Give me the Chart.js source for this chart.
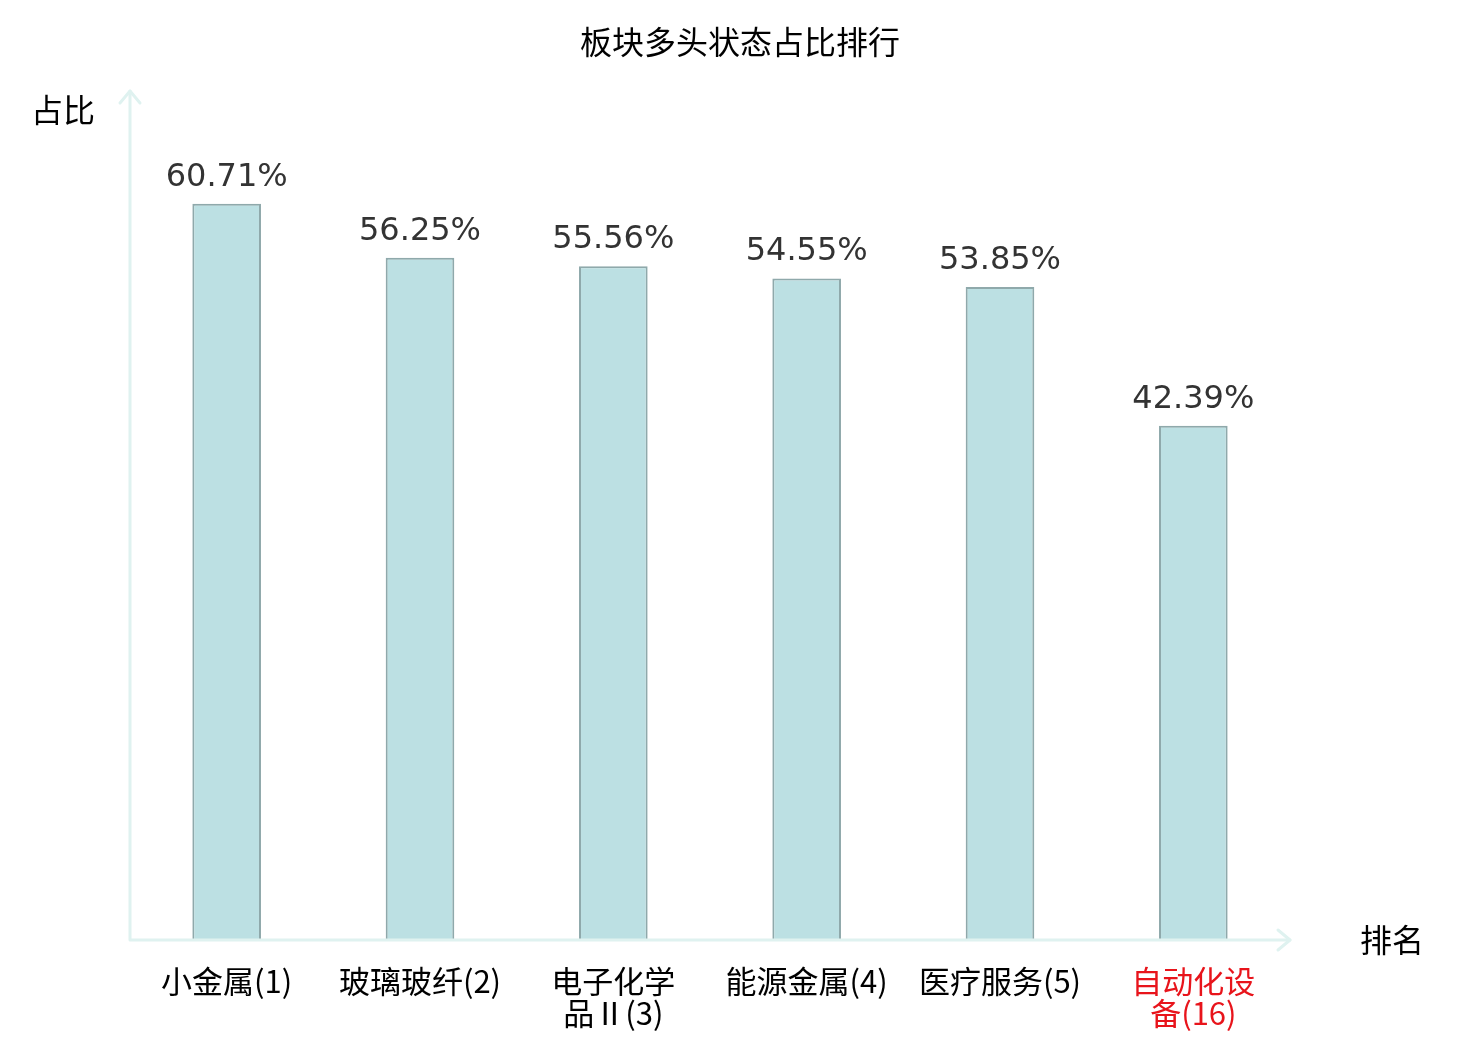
<!DOCTYPE html>
<html><head><meta charset="utf-8">
<script src="https://cdn.jsdelivr.net/npm/chart.js@4.4.1/dist/chart.umd.min.js"></script>
<style>html,body{margin:0;padding:0;background:#fff}#wrap{width:1480px;height:1040px}</style>
</head><body><div id="wrap"><canvas id="c" width="1480" height="1040"></canvas></div>
<script>
const categories = [["小金属(1)"],["玻璃玻纤(2)"],["电子化学","品Ⅱ(3)"],["能源金属(4)"],["医疗服务(5)"],["自动化设","备(16)"]];
const values = [60.71, 56.25, 55.56, 54.55, 53.85, 42.39];
const highlight = [false,false,false,false,false,true];
const titleText = "板块多头状态占比排行";
const yTitle = "占比";
const xTitle = "排名";

const CJK = '"Noto Sans CJK SC", "DejaVu Sans", sans-serif';
const AXIS = '#dff2f0';

const decor = {
  id:'decor',
  afterDatasetsDraw(chart){
    const ctx = chart.ctx, a = chart.chartArea;
    const meta = chart.getDatasetMeta(0);
    ctx.save();
    ctx.font = '32px "DejaVu Sans", sans-serif';
    ctx.fillStyle = '#333333';
    ctx.textAlign = 'center';
    ctx.textBaseline = 'alphabetic';
    meta.data.forEach((el,i)=>{
      ctx.fillText(values[i].toFixed(2)+'%', el.x, el.y - 18);
    });
    ctx.strokeStyle = AXIS; ctx.lineWidth = 3; ctx.lineCap='round'; ctx.lineJoin='round';
    ctx.beginPath();
    ctx.moveTo(a.left, a.top); ctx.lineTo(a.left, a.bottom); ctx.lineTo(a.right, a.bottom);
    ctx.stroke();
    ctx.beginPath();
    ctx.moveTo(a.left-10, a.top+12); ctx.lineTo(a.left, a.top); ctx.lineTo(a.left+10, a.top+12);
    ctx.moveTo(a.right-12, a.bottom-10); ctx.lineTo(a.right, a.bottom); ctx.lineTo(a.right-12, a.bottom+10);
    ctx.stroke();
    ctx.fillStyle = '#000';
    ctx.font = '32px ' + CJK;
    ctx.textBaseline = 'middle';
    ctx.textAlign = 'center';
    ctx.fillText(titleText, 740, 42);
    ctx.fillText(yTitle, 63, 110);
    ctx.fillText(xTitle, 1392, 940);
    ctx.restore();
  }
};

new Chart(document.getElementById('c'), {
  type:'bar',
  data:{ labels: categories, datasets:[{ data: values, backgroundColor:'#bce0e3', borderColor:'#8fa9ab', borderWidth:2, barPercentage:0.355, categoryPercentage:1 }]},
  options:{
    responsive:false, animation:false, devicePixelRatio:1,
    layout:{ padding:{ left:130, right:190, top:91, bottom:0 } },
    plugins:{ legend:{display:false}, tooltip:{enabled:false}, title:{display:false} },
    scales:{
      x:{ grid:{display:false, drawTicks:false}, border:{display:false},
          ticks:{ padding:25, color:(c)=>highlight[c.index]?'#e8141b':'#000', font:{ size:31, family:CJK, lineHeight:1.03 }, maxRotation:0, autoSkip:false },
          afterFit(axis){ axis.height = 100; } },
      y:{ display:false, min:0, max:70 }
    }
  },
  plugins:[decor]
});
</script></body></html>
